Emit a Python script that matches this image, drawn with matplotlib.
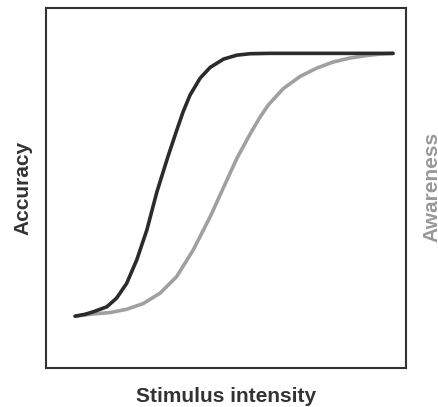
import matplotlib.pyplot as plt

# values (x: 0-100 across the frame, y: 0-100 up the frame)
accuracy_x = [8.1, 10.8, 13.1, 15.0, 16.9, 19.6, 22.4, 25.2, 28.0, 30.8, 33.8, 36.3,
              38.1, 40.0, 42.8, 45.6, 49.3, 53.0, 56.7, 62.2, 70.6, 96.4]
accuracy_y = [14.4, 14.9, 15.6, 16.3, 17.0, 19.4, 23.5, 30.0, 38.3, 48.9, 58.5, 66.0,
              71.2, 75.8, 80.5, 83.5, 85.8, 86.9, 87.3, 87.4, 87.4, 87.4]

awareness_x = [8.1, 13.0, 17.8, 22.4, 27.0, 31.7, 36.3, 40.9, 45.6, 49.7, 53.0, 56.7,
               59.4, 61.7, 65.9, 70.6, 75.2, 79.8, 84.4, 89.1, 92.8, 96.4]
awareness_y = [14.4, 15.0, 15.4, 16.3, 17.9, 20.8, 25.4, 32.8, 42.0, 51.0, 58.2, 65.0,
               69.6, 73.0, 77.6, 81.0, 83.3, 85.0, 86.1, 86.8, 87.2, 87.4]

W, H = 438, 407
fig = plt.figure(figsize=(W / 100, H / 100), dpi=100)
ax = fig.add_axes([46 / W, 1 - 368 / H, 360 / W, 360 / H])

ax.plot(awareness_x, awareness_y, color='#a0a0a0', lw=2.6,
        solid_capstyle='round', solid_joinstyle='round')
ax.plot(accuracy_x, accuracy_y, color='#2b2b2b', lw=2.6,
        solid_capstyle='round', solid_joinstyle='round')

ax.set_xlim(0, 100)
ax.set_ylim(0, 100)
ax.set_xticks([])
ax.set_yticks([])
for s in ax.spines.values():
    s.set_color('#333333')
    s.set_linewidth(1.5)

font = ['Liberation Sans', 'DejaVu Sans']
fig.text(226 / W, 1 - 402 / H, 'Stimulus intensity', ha='center', va='baseline',
         fontsize=15, fontweight='bold', color='#333333', family=font)
fig.text(28 / W, 1 - 188 / H, 'Accuracy', rotation=90, rotation_mode='anchor',
         ha='center', va='baseline', fontsize=15, fontweight='bold',
         color='#333333', family=font)
# the reference crops this label at the right edge; keep it just inside
fig.text(437 / W, 1 - 187 / H, 'Awareness', rotation=90, rotation_mode='anchor',
         ha='center', va='baseline', fontsize=15, fontweight='bold',
         color='#999999', family=font)

fig.savefig('out.png', dpi=100)
